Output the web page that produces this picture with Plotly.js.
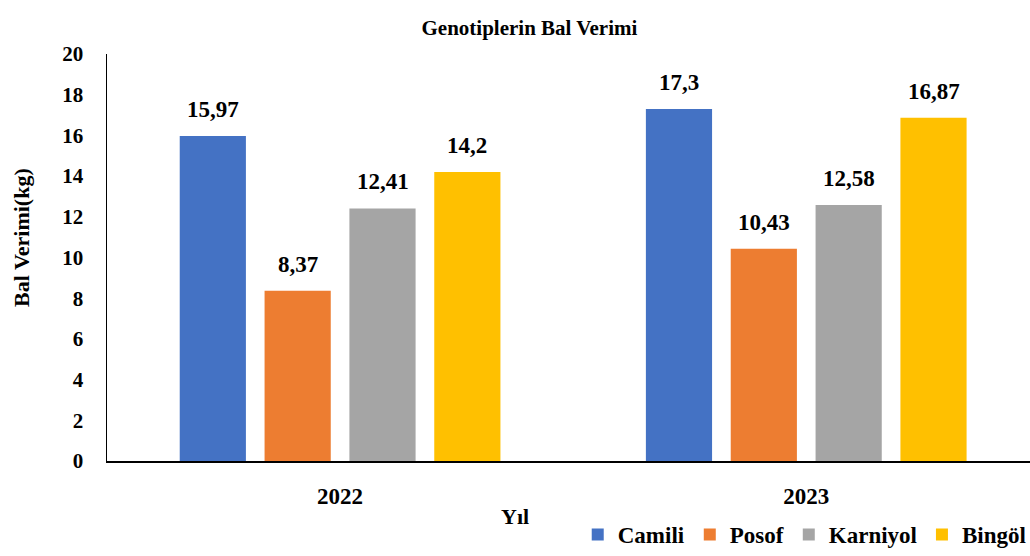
<!DOCTYPE html>
<html><head><meta charset="utf-8">
<script src="https://cdn.plot.ly/plotly-3.0.1.min.js"></script>
<style>
body{margin:0;padding:0;background:#fff}
#chart{width:1030px;height:556px}
</style>
</head><body><div id="chart"></div>
<script>
const years = ['2022', '2023'];
const camili = [15.97, 17.3];
const posof = [8.37, 10.43];
const karniyol = [12.41, 12.58];
const bingol = [14.2, 16.87];
const seriesNames = ['Camili', 'Posof', 'Karniyol', 'Bingöl'];
const seriesValues = [camili, posof, karniyol, bingol];
const colors = ['#4472C4', '#ED7D31', '#A5A5A5', '#FFC000'];
const FONT = 'Times New Roman';
const BARGAP = 0.272;

function f(size) { return {family: FONT, size: size, color: '#000', weight: 700}; }

const traces = seriesNames.map((n, i) => ({
  type: 'bar', name: n, x: years, y: seriesValues[i],
  marker: {color: colors[i]},
  hoverinfo: 'none'
}));

const slot = (1 - BARGAP) / seriesNames.length;
const annotations = [];
seriesValues.forEach((vals, s) => {
  vals.forEach((v, c) => {
    annotations.push({
      x: c + (s - (seriesNames.length - 1) / 2) * slot, y: v, xref: 'x', yref: 'y',
      text: String(v).replace('.', ','), showarrow: false,
      xanchor: 'center', yanchor: 'bottom', yshift: 12,
      font: f(23)
    });
  });
});
annotations.push({text: 'Yıl', xref: 'paper', yref: 'paper', x: (515 - 107) / 923, y: -(516 - 461) / 407,
  showarrow: false, xanchor: 'center', yanchor: 'middle', font: f(22)});
annotations.push({text: 'Bal Verimi(kg)', xref: 'paper', yref: 'paper', x: (22 - 107) / 923, y: (461 - 238) / 407,
  showarrow: false, xanchor: 'center', yanchor: 'middle', textangle: -90, font: f(22)});

const layout = {
  width: 1030, height: 556,
  margin: {l: 107, r: 0, t: 54, b: 95, autoexpand: false},
  paper_bgcolor: '#fff', plot_bgcolor: '#fff',
  font: {family: FONT, color: '#000'},
  title: {text: 'Genotiplerin Bal Verimi', font: f(21), x: 0.514, xanchor: 'center', y: 0.951, yanchor: 'middle'},
  barmode: 'group', bargap: BARGAP, bargroupgap: 0.22,
  xaxis: {type: 'category', range: [-0.5, 1.48], showgrid: false, zeroline: false,
    showline: true, linecolor: '#000', linewidth: 1.5, ticks: '',
    ticklabelstandoff: 14, tickfont: f(23)},
  yaxis: {range: [0, 20], dtick: 2, showgrid: false, zeroline: false,
    showline: true, linecolor: '#000', linewidth: 1.5, ticks: '',
    ticklabelstandoff: 18, tickfont: f(21)},
  showlegend: true,
  legend: {orientation: 'h', x: 0.51, xanchor: 'left', y: -0.2334, yanchor: 'bottom',
    font: f(23), itemwidth: 30, tracegroupgap: 0, bgcolor: 'rgba(0,0,0,0)'},
  annotations: annotations
};
Plotly.newPlot('chart', traces, layout, {displayModeBar: false, staticPlot: true});
</script></body></html>
